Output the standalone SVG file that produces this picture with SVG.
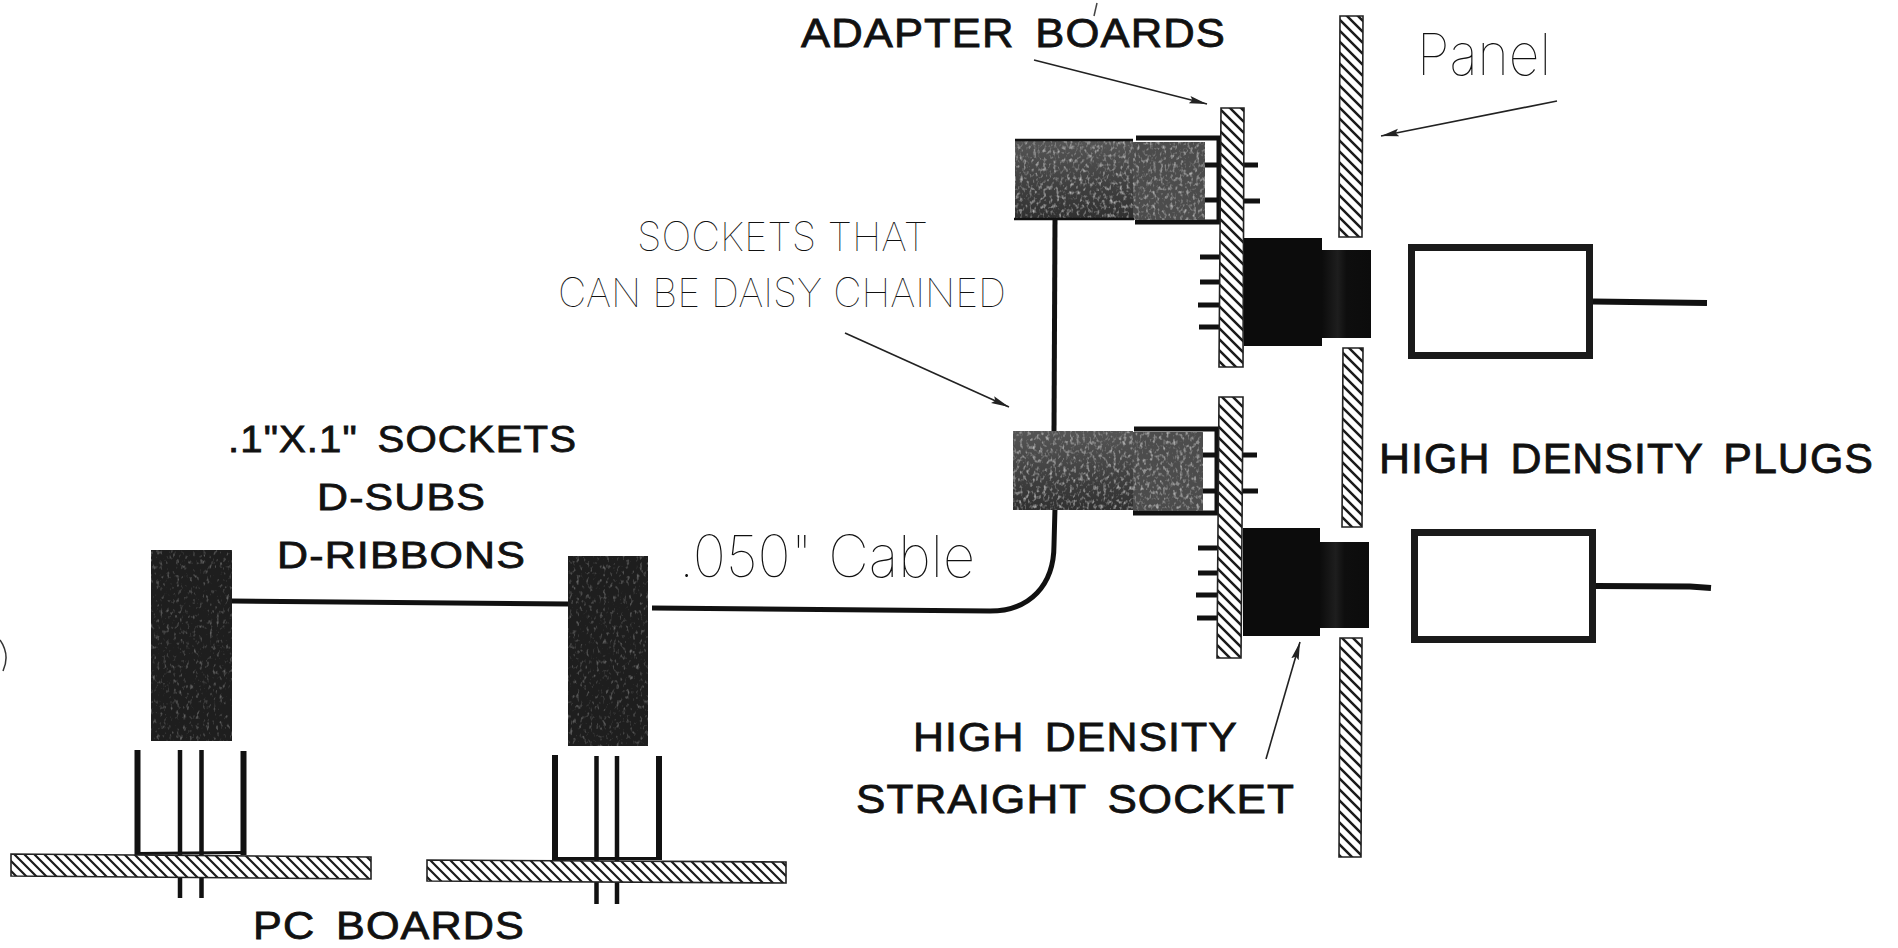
<svg xmlns="http://www.w3.org/2000/svg" width="1898" height="948" viewBox="0 0 1898 948">
<style>
.b{font-family:"Liberation Sans",Arial,sans-serif;font-size:40px;letter-spacing:1px;word-spacing:7px;fill:#111;stroke:#111;stroke-width:.8px}
.l{font-family:Inter,"Liberation Sans",sans-serif;font-weight:100;font-size:40px;fill:#111}
.h{fill:url(#hatch);stroke:#222;stroke-width:1.6}
.hh{fill:url(#hatch2);stroke:#222;stroke-width:1.6}
.p{stroke:#111;fill:none}
.w{stroke:#111;fill:none;stroke-width:5}
.a{stroke:#222;stroke-width:1.6;fill:none;marker-end:url(#arr)}
.g1{fill:url(#shade);filter:url(#grain)}
.g2{fill:#4c4c4c;filter:url(#grain)}
.g3{fill:#1e1e1e;filter:url(#grain2)}
.k{fill:#0c0c0c}
.k2{fill:url(#band)}
.pl{fill:#fff;stroke:#1a1a1a;stroke-width:7}
</style>
<defs>
<pattern id="hatch" width="11" height="11" patternUnits="userSpaceOnUse">
<rect width="11" height="11" fill="#fff"/>
<path d="M-3,-3L14,14M-3,8L3,14M8,-3L14,3" stroke="#1a1a1a" stroke-width="2.500"/>
</pattern>
<pattern id="hatch2" width="10" height="10" patternUnits="userSpaceOnUse">
<rect width="10" height="10" fill="#fff"/>
<path d="M-3,-3L13,13M-3,7L3,13M7,-3L13,3" stroke="#1a1a1a" stroke-width="2.200"/>
</pattern>
<linearGradient id="band" x1="0" x2="1" y1="0" y2="0">
<stop offset="0" stop-color="#0c0c0c"/><stop offset=".32" stop-color="#1e1e1e"/><stop offset=".5" stop-color="#0e0e0e"/><stop offset="1" stop-color="#0c0c0c"/>
</linearGradient>
<linearGradient id="shade" x1="0" x2="0" y1="0" y2="1">
<stop offset="0" stop-color="#555"/><stop offset="1" stop-color="#303030"/>
</linearGradient>
<filter id="grain" x="0" y="0" width="1" height="1" color-interpolation-filters="sRGB">
<feTurbulence type="fractalNoise" baseFrequency=".3 .22" numOctaves="2" seed="4" result="n"/>
<feColorMatrix in="n" type="matrix" values="0 0 0 0 .72  0 0 0 0 .72  0 0 0 0 .72  2.600 0 0 0 -1.300" result="s"/>
<feGaussianBlur in="s" stdDeviation=".5" result="b"/>
<feComposite in="b" in2="SourceGraphic" operator="in" result="c"/>
<feMerge><feMergeNode in="SourceGraphic"/><feMergeNode in="c"/></feMerge>
</filter>
<filter id="grain2" x="0" y="0" width="1" height="1" color-interpolation-filters="sRGB">
<feTurbulence type="fractalNoise" baseFrequency=".3 .2" numOctaves="2" seed="9" result="n"/>
<feColorMatrix in="n" type="matrix" values="0 0 0 0 .55  0 0 0 0 .55  0 0 0 0 .55  2.200 0 0 0 -1.250" result="s"/>
<feGaussianBlur in="s" stdDeviation=".5" result="b"/>
<feComposite in="b" in2="SourceGraphic" operator="in" result="c"/>
<feMerge><feMergeNode in="SourceGraphic"/><feMergeNode in="c"/></feMerge>
</filter>
<marker id="arr" markerUnits="userSpaceOnUse" markerWidth="20" markerHeight="10" refX="18" refY="5" orient="auto">
<path d="M0,1.2L18,5L0,8.8L3,5Z" fill="#222"/>
</marker>
</defs>
<rect width="1898" height="948" fill="#fff"/>

<g id="connectors">
<path class="w" d="M232,601L568,604"/>
<path class="w" d="M652,608L990,611C1030,611 1054,585 1054,545L1055,508"/>
<path class="w" d="M1055,218L1054,432"/>
<path class="a" d="M1034,60L1207,104"/>
<path class="a" d="M1557,101L1381,136"/>
<path class="a" d="M845,333L1009,407"/>
<path class="a" d="M1266,759L1300,642"/>
</g>

<g id="pc-board-1">
<path class="p" stroke-width="6" d="M137.500,750V855M243.500,751V855"/>
<path class="p" stroke-width="4.500" d="M180,750V898M201.500,750V898"/>
<path class="p" stroke-width="3" d="M137,853.500L244,852.500"/>
<polygon class="hh" points="11,854 371,857 371,879 11,876"/>
</g>
<g id="pc-board-2">
<path class="p" stroke-width="6" d="M555,755V860M659,756V860"/>
<path class="p" stroke-width="4.500" d="M596.500,756V904M617,756V904"/>
<path class="p" stroke-width="3" d="M555,858.500L659,858.500"/>
<polygon class="hh" points="427,860 786,862 786,883 427,881"/>
</g>
<g id="socket-1"><rect class="g3" x="151" y="550" width="81" height="191"/></g>
<g id="socket-2"><rect class="g3" x="568" y="556" width="80" height="190"/></g>

<g id="adapter-1">
<path class="p" stroke-width="5" d="M1136,138H1221M1135,222H1221"/>
<path class="p" stroke-width="5" d="M1219,138V222M1205,165H1221M1205,200H1221M1244,165H1258M1244,201H1260"/>
<rect class="g1" x="1015" y="140" width="118" height="79"/>
<rect class="g2" x="1133" y="142" width="72" height="78"/>
<path class="p" stroke-width="2.500" d="M1015,140H1133M1014,219H1134"/>
<path class="p" stroke-width="5" d="M1200,257H1221M1200,282H1221M1198,305H1221M1199,327H1221"/>
<polygon class="h" points="1221,108 1244,108 1243,367 1219,367"/>
<rect class="k" x="1244" y="238" width="78" height="108"/>
<rect class="k2" x="1322" y="250" width="49" height="88"/>
</g>
<g id="adapter-2">
<path class="p" stroke-width="5" d="M1134,429H1219M1133,513H1219"/>
<path class="p" stroke-width="5" d="M1217,429V513M1203,455H1219M1203,491H1219M1243,455H1257M1243,491H1258"/>
<rect class="g1" x="1013" y="431" width="120" height="79"/>
<rect class="g2" x="1133" y="432" width="70" height="79"/>
<path class="p" stroke-width="5" d="M1198,548H1218M1198,573H1218M1196,595H1218M1197,618H1218"/>
<polygon class="h" points="1219,397 1243,397 1241,658 1217,658"/>
<rect class="k" x="1243" y="528" width="77" height="108"/>
<rect class="k2" x="1320" y="542" width="49" height="86"/>
</g>

<g id="panel">
<polygon class="h" points="1340,16 1363,16 1362,237 1339,237"/>
<polygon class="h" points="1343,348 1363,348 1362,527 1342,527"/>
<polygon class="h" points="1340,638 1362,638 1361,857 1339,857"/>
</g>

<g id="plug-1">
<rect class="pl" x="1411.500" y="247.500" width="178" height="108"/>
<path class="p" stroke-width="6" d="M1593,301.500L1707,303"/>
</g>
<g id="plug-2">
<rect class="pl" x="1414.500" y="532.500" width="178" height="107"/>
<path class="p" stroke-width="6" d="M1596,586L1690,586.500L1711,588"/>
</g>

<g id="labels">
<text class="b" x="801" y="47" textLength="425" lengthAdjust="spacingAndGlyphs">ADAPTER BOARDS</text>
<text class="l" x="1417" y="75" style="font-size:58px" textLength="134" lengthAdjust="spacingAndGlyphs">Panel</text>
<text class="l" x="637" y="251" textLength="291" lengthAdjust="spacingAndGlyphs">SOCKETS THAT</text>
<text class="l" x="558" y="307" textLength="448" lengthAdjust="spacingAndGlyphs">CAN BE DAISY CHAINED</text>
<text class="b" x="228" y="452" style="font-size:37px" textLength="349" lengthAdjust="spacingAndGlyphs">.1"X.1" SOCKETS</text>
<text class="b" x="317" y="510" style="font-size:37px" textLength="169" lengthAdjust="spacingAndGlyphs">D-SUBS</text>
<text class="b" x="277" y="568" style="font-size:37px" textLength="249" lengthAdjust="spacingAndGlyphs">D-RIBBONS</text>
<text class="l" x="679" y="577" style="font-size:58px" textLength="296" lengthAdjust="spacingAndGlyphs">.050" Cable</text>
<text class="b" x="1379" y="473" style="font-size:42px" textLength="495" lengthAdjust="spacingAndGlyphs">HIGH DENSITY PLUGS</text>
<text class="b" x="913" y="751" style="font-size:41px" textLength="325" lengthAdjust="spacingAndGlyphs">HIGH DENSITY</text>
<text class="b" x="856" y="813" style="font-size:41px" textLength="439" lengthAdjust="spacingAndGlyphs">STRAIGHT SOCKET</text>
<text class="b" x="253" y="939" style="font-size:39px" textLength="272" lengthAdjust="spacingAndGlyphs">PC BOARDS</text>
</g>
<path d="M1097,3L1094,16" stroke="#444" stroke-width="1.500" fill="none"/>
<path d="M0,640C7,650 8,660 3,671" stroke="#333" stroke-width="1.500" fill="none"/>
</svg>
